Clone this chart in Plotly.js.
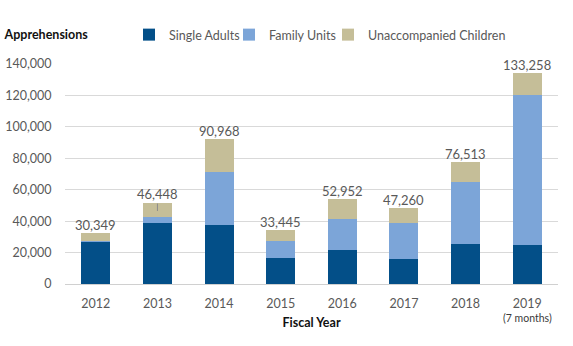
<!DOCTYPE html>
<html>
<head>
<meta charset="utf-8">
<script src="https://cdn.plot.ly/plotly-3.0.1.min.js"></script>
<style>html,body{margin:0;padding:0;background:#fff;}#chart{width:573px;height:346px;}</style>
</head>
<body>
<div id="chart"></div>
<script>
var years = ['2012','2013','2014','2015','2016','2017','2018','2019'];
var singleAdults = [26700, 38800, 37300, 16500, 21400, 16100, 25200, 24600];
var familyUnits = [400, 3600, 34200, 10600, 20000, 22500, 39500, 95900];
var unaccompaniedChildren = [5100, 9100, 20500, 7300, 12700, 9800, 13100, 13800];
var totalLabels = ['30,349','46,448','90,968','33,445','52,952','47,260','76,513','133,258'];
var yTicks = [0, 20000, 40000, 60000, 80000, 100000, 120000, 140000];

var FONT = 'Lato, "Open Sans", sans-serif';
var GREY = '#595959';

var traces = [
  {type:'bar', name:'Single Adults', x:years, y:singleAdults, marker:{color:'#034f88'}, hoverinfo:'skip', legend:'legend'},
  {type:'bar', name:'Family Units', x:years, y:familyUnits, marker:{color:'#7ca5d8'}, hoverinfo:'skip', legend:'legend2'},
  {type:'bar', name:'Unaccompanied Children', x:years, y:unaccompaniedChildren, marker:{color:'#c5be98'}, hoverinfo:'skip', legend:'legend3'}
];

var annotations = years.map(function(yr, i){
  var top = singleAdults[i] + familyUnits[i] + unaccompaniedChildren[i];
  if (yr === '2013') {
    return {x:i, y:parseInt(totalLabels[i].replace(/,/g,''),10), text:totalLabels[i],
      showarrow:true, arrowhead:0, arrowwidth:1, arrowcolor:'#8c8c8c', ax:0, ay:-17,
      font:{family:FONT, size:13, color:GREY}};
  }
  return {x:i, y:top, text:totalLabels[i], showarrow:false, yanchor:'bottom', yshift:-2,
    font:{family:FONT, size:13, color:GREY}};
});
annotations.push({x:years.length-1, y:0, yref:'paper', text:'(7 months)', showarrow:false,
  yanchor:'middle', yshift:-34, font:{family:FONT, size:10.5, color:'#3a3a3a'}});

function leg(px){
  return {orientation:'h', xref:'container', yref:'container', x:px/573, y:1-35/346,
    xanchor:'left', yanchor:'middle', font:{family:FONT, size:12.5, color:GREY},
    itemwidth:30, bgcolor:'rgba(0,0,0,0)'};
}

var layout = {
  width:573, height:346,
  margin:{l:65, r:15, t:64, b:62},
  paper_bgcolor:'#fff', plot_bgcolor:'#fff',
  barmode:'stack', bargap:0.53,
  font:{family:FONT, color:GREY},
  title:{text:'<b>Apprehensions</b>', x:0.008, xref:'container', xanchor:'left',
    y:1-35/346, yref:'container', yanchor:'middle', font:{family:FONT, size:12.5, color:'#111'}},
  legend:leg(129),
  legend2:leg(229),
  legend3:leg(328),
  xaxis:{type:'category', tickfont:{family:FONT, size:12.5, color:GREY}, ticks:'outside',
    ticklen:8, tickcolor:'rgba(0,0,0,0)', showline:false, showgrid:false,
    title:{text:'<b>Fiscal Year</b>', standoff:8, font:{family:FONT, size:12.5, color:'#111'}}},
  yaxis:{range:[0,140000], tickvals:yTicks, tickformat:',', showgrid:true, gridcolor:'#d9d9d9',
    gridwidth:1, zeroline:true, zerolinecolor:'#d0d0d0', zerolinewidth:1,
    ticks:'outside', ticklen:10, tickcolor:'rgba(0,0,0,0)',
    tickfont:{family:FONT, size:12.5, color:GREY}},
  annotations:annotations,
  showlegend:true
};

Plotly.newPlot('chart', traces, layout, {displayModeBar:false, staticPlot:true});
</script>
</body>
</html>
